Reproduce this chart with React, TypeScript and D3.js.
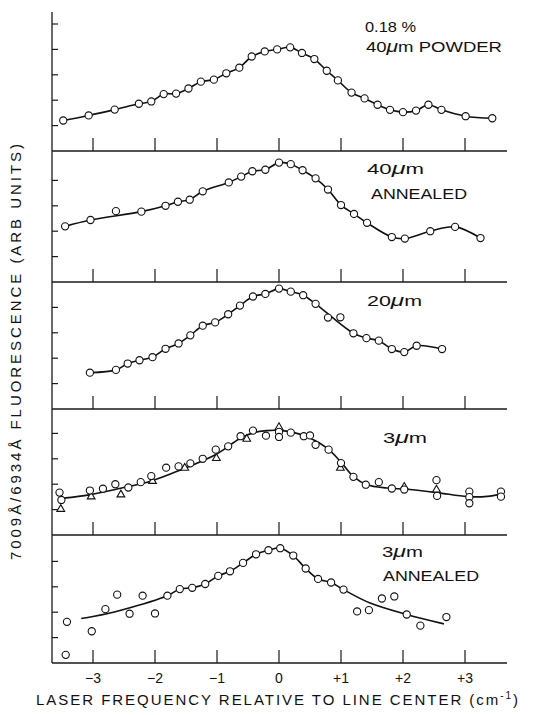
import React from 'react';
import * as d3 from 'd3';

type P = [number, number];

// x-axis ticks
const xTickValues = [-3, -2, -1, 0, 1, 2, 3];
const xTickLabels = ['\u22123', '\u22122', '\u22121', '0', '+1', '+2', '+3'];

// Panel 1: 0.18% 40um powder
const p1Circles: P[] = [[-3.48,1.20],[-3.07,1.40],[-2.65,1.63],[-2.26,1.86],[-2.06,1.95],[-1.86,2.24],[-1.66,2.26],[-1.46,2.46],[-1.26,2.73],[-1.05,2.81],[-0.85,3.06],[-0.64,3.28],[-0.44,3.72],[-0.23,3.92],[-0.03,4.00],[0.18,4.08],[0.37,3.86],[0.57,3.62],[0.77,3.16],[0.95,2.78],[1.17,2.30],[1.38,2.07],[1.59,1.82],[1.79,1.62],[2.00,1.53],[2.21,1.59],[2.41,1.82],[2.62,1.62],[3.01,1.37],[3.44,1.29]];
const p1Curve: P[] = p1Circles;

// Panel 2: 40um annealed
const p2Circles: P[] = [[-3.45,2.19],[-3.04,2.44],[-2.63,2.79],[-2.22,2.77],[-1.83,3.00],[-1.63,3.16],[-1.44,3.24],[-1.23,3.57],[-0.81,3.92],[-0.61,4.15],[-0.43,4.36],[-0.22,4.42],[0.0,4.70],[0.19,4.64],[0.38,4.40],[0.59,4.08],[0.79,3.64],[1.00,3.03],[1.21,2.68],[1.42,2.33],[1.82,1.77],[2.03,1.71],[2.44,2.00],[2.84,2.17],[3.25,1.73]];
const p2Curve: P[] = [[-3.45,2.19],[-3.04,2.44],[-2.22,2.77],[-1.83,3.00],[-1.63,3.16],[-1.44,3.24],[-1.23,3.57],[-0.81,3.92],[-0.61,4.15],[-0.43,4.36],[-0.22,4.42],[0.0,4.70],[0.19,4.64],[0.38,4.40],[0.59,4.08],[0.79,3.64],[1.00,3.03],[1.21,2.68],[1.42,2.33],[1.82,1.77],[2.03,1.71],[2.44,2.00],[2.84,2.17],[3.25,1.73]];

// Panel 3: 20um
const p3Circles: P[] = [[-3.05,1.43],[-2.63,1.54],[-2.44,1.79],[-2.25,1.92],[-2.04,2.04],[-1.83,2.37],[-1.62,2.58],[-1.43,2.90],[-1.23,3.28],[-1.03,3.41],[-0.82,3.73],[-0.63,4.07],[-0.42,4.43],[-0.22,4.53],[0.0,4.74],[0.19,4.62],[0.39,4.48],[0.59,4.14],[0.79,3.60],[0.99,3.61],[1.20,2.98],[1.41,2.79],[1.61,2.69],[1.82,2.36],[2.02,2.24],[2.22,2.49],[2.63,2.36]];
const p3Curve: P[] = [[-3.05,1.43],[-2.63,1.54],[-2.44,1.79],[-2.25,1.92],[-2.04,2.04],[-1.83,2.37],[-1.62,2.58],[-1.43,2.90],[-1.23,3.28],[-1.03,3.41],[-0.82,3.73],[-0.63,4.07],[-0.42,4.43],[-0.22,4.53],[0.0,4.74],[0.19,4.62],[0.39,4.48],[0.59,4.14],[1.20,2.98],[1.41,2.79],[1.61,2.69],[1.82,2.36],[2.02,2.24],[2.22,2.49],[2.63,2.36]];

// Panel 4: 3um (circles and triangles)
const p4Circles: P[] = [[-3.54,1.67],[-3.51,1.38],[-3.05,1.75],[-2.84,1.82],[-2.64,2.00],[-2.43,1.87],[-2.23,2.08],[-2.06,2.32],[-1.82,2.65],[-1.62,2.70],[-1.43,2.82],[-1.23,3.00],[-1.02,3.36],[-0.82,3.49],[-0.62,3.89],[-0.42,4.11],[-0.21,3.91],[0.0,4.06],[0.0,3.86],[0.19,4.03],[0.40,3.89],[0.50,3.92],[0.59,3.55],[0.80,3.36],[1.00,2.83],[1.20,2.29],[1.40,1.98],[1.61,2.08],[1.82,1.83],[2.02,1.79],[2.54,2.16],[2.55,1.54],[3.07,1.71],[3.07,1.49],[3.07,1.25],[3.58,1.71],[3.58,1.51]];
const p4Triangles: P[] = [[-3.52,1.02],[-3.03,1.51],[-2.55,1.59],[-2.04,2.12],[-1.52,2.64],[-1.01,3.02],[-0.52,3.78],[0.0,4.24],[0.99,2.64],[2.02,1.89],[2.54,1.78]];
const p4Curve: P[] = [[-3.48,1.45],[-3.06,1.58],[-2.63,1.80],[-2.03,2.15],[-1.60,2.55],[-1.01,3.18],[-0.63,3.80],[-0.42,4.02],[-0.20,4.11],[0,4.12],[0.23,4.04],[0.50,3.82],[0.77,3.43],[0.99,2.90],[1.20,2.30],[1.42,1.98],[1.74,1.85],[2.07,1.80],[2.55,1.67],[3.04,1.51],[3.36,1.52],[3.58,1.62]];

// Panel 5: 3um annealed
const p5Circles: P[] = [[-3.44,0.32],[-3.42,1.62],[-3.02,1.25],[-2.80,2.12],[-2.61,2.69],[-2.41,1.94],[-2.20,2.65],[-2.00,1.95],[-1.80,2.65],[-1.60,2.91],[-1.40,2.96],[-1.19,3.11],[-0.98,3.43],[-0.79,3.61],[-0.58,3.94],[-0.37,4.28],[-0.17,4.44],[0.02,4.52],[0.23,4.23],[0.43,3.72],[0.63,3.31],[0.84,3.17],[1.04,2.89],[1.26,2.03],[1.45,2.08],[1.66,2.54],[1.86,2.62],[2.06,1.91],[2.28,1.47],[2.70,1.81]];
const p5Curve: P[] = [[-3.19,1.75],[-3.00,1.83],[-2.52,2.10],[-1.80,2.65],[-1.60,2.91],[-1.40,2.96],[-1.19,3.11],[-0.98,3.43],[-0.79,3.61],[-0.58,3.94],[-0.37,4.28],[-0.17,4.44],[0.02,4.52],[0.23,4.23],[0.43,3.72],[0.63,3.31],[0.84,3.17],[1.04,2.89],[1.47,2.36],[2.06,1.91],[2.66,1.54]];

const yTitle = '7009\u00C5/6934\u00C5 FLUORESCENCE (ARB UNITS)';
const xTitle = 'LASER FREQUENCY RELATIVE TO LINE CENTER (cm';

type Label = { parts: { t: string; mu?: boolean }[]; x: number; y: number; w: number };

export default function App() {
  const W = 533, H = 715;
  const x = d3.scaleLinear().domain([-3, 3]).range([93, 465]);
  const axisLeft = 52, axisRight = 507;
  const unit = 25.4;
  const font = "'Liberation Sans', Arial, Helvetica, sans-serif";

  const panels: { top: number; bottom: number; nTicks: number; circles: P[]; triangles: P[]; curve: P[]; labels: Label[] }[] = [
    { top: 12, bottom: 151, nTicks: 5, circles: p1Circles, triangles: [], curve: p1Curve,
      labels: [
        { parts: [{ t: '0.18 %' }], x: 365, y: 32, w: 51 },
        { parts: [{ t: '40' }, { t: '\u03BC', mu: true }, { t: 'm POWDER' }], x: 366, y: 51.5, w: 136 },
      ] },
    { top: 151, bottom: 282, nTicks: 4, circles: p2Circles, triangles: [], curve: p2Curve,
      labels: [
        { parts: [{ t: '40' }, { t: '\u03BC', mu: true }, { t: 'm' }], x: 367, y: 174, w: 57 },
        { parts: [{ t: 'ANNEALED' }], x: 371, y: 199, w: 96 },
      ] },
    { top: 282, bottom: 409, nTicks: 4, circles: p3Circles, triangles: [], curve: p3Curve,
      labels: [
        { parts: [{ t: '20' }, { t: '\u03BC', mu: true }, { t: 'm' }], x: 367, y: 305.5, w: 55 },
      ] },
    { top: 409, bottom: 535, nTicks: 4, circles: p4Circles, triangles: p4Triangles, curve: p4Curve,
      labels: [
        { parts: [{ t: '3' }, { t: '\u03BC', mu: true }, { t: 'm' }], x: 383, y: 443, w: 44 },
      ] },
    { top: 535, bottom: 663, nTicks: 4, circles: p5Circles, triangles: [], curve: p5Curve,
      labels: [
        { parts: [{ t: '3' }, { t: '\u03BC', mu: true }, { t: 'm' }], x: 382, y: 557, w: 41 },
        { parts: [{ t: 'ANNEALED' }], x: 383, y: 581, w: 96 },
      ] },
  ];

  const tri = d3.symbol().type(d3.symbolTriangle).size(26)();

  return (
    <svg width={W} height={H} style={{ position: 'absolute', left: 0, top: 0, background: '#fff' }}
      xmlns="http://www.w3.org/2000/svg">
      <rect x={0} y={0} width={W} height={H} fill="#fff" />
      {/* left axis */}
      <line x1={axisLeft} x2={axisLeft} y1={12} y2={663} stroke="#1a1a1a" strokeWidth={1.3} />
      {panels.map((p, i) => {
        const y = d3.scaleLinear().domain([0, 1]).range([p.bottom, p.bottom - unit]);
        const line = d3.line<P>().x(d => x(d[0])).y(d => y(d[1])).curve(d3.curveCatmullRom.alpha(0.5));
        const yt = d3.range(1, p.nTicks + 1);
        return (
          <g key={i}>
            <line x1={axisLeft} x2={axisRight} y1={p.bottom} y2={p.bottom} stroke="#1a1a1a" strokeWidth={1.3} />
            {xTickValues.map(v => (
              <line key={v} x1={x(v)} x2={x(v)} y1={p.bottom} y2={p.bottom - 13} stroke="#1a1a1a" strokeWidth={1.2} />
            ))}
            {yt.map(v => (
              <line key={v} x1={axisLeft} x2={axisLeft + 6} y1={y(v)} y2={y(v)} stroke="#1a1a1a" strokeWidth={1.2} />
            ))}
            <path d={line(p.curve) || ''} fill="none" stroke="#111" strokeWidth={1.6} />
            {p.triangles.map((d, j) => (
              <path key={'t' + j} d={tri || ''} transform={`translate(${x(d[0])},${y(d[1])})`}
                fill="#fff" stroke="#111" strokeWidth={1.1} />
            ))}
            {p.circles.map((d, j) => (
              <circle key={'c' + j} cx={x(d[0])} cy={y(d[1])} r={3.6} fill="#fff" stroke="#111" strokeWidth={1.1} />
            ))}
            {p.labels.map((l, j) => (
              <text key={'l' + j} x={l.x} y={l.y} fontFamily={font} fontSize={15} fill="#111"
                textLength={l.w} lengthAdjust="spacingAndGlyphs">
                {l.parts.map((pt, k) => (
                  <tspan key={k} fontStyle={pt.mu ? 'italic' : 'normal'} fontSize={pt.mu ? 17 : undefined}>{pt.t}</tspan>
                ))}
              </text>
            ))}
          </g>
        );
      })}
      {/* x tick labels */}
      {xTickValues.map((v, i) => (
        <text key={v} x={x(v)} y={683} textAnchor="middle" fontFamily={font} fontSize={14} fill="#111">
          {xTickLabels[i]}
        </text>
      ))}
      {/* x title */}
      <text x={36} y={705} fontFamily={font} fontSize={15} fill="#111" textLength={482} lengthAdjust="spacing">
        {xTitle}
        <tspan dy={-6} fontSize={10}>-1</tspan>
        <tspan dy={6}>)</tspan>
      </text>
      {/* y title */}
      <text transform={`translate(21,352) rotate(-90)`} textAnchor="middle" fontFamily={font} fontSize={15}
        fill="#111" textLength={416} lengthAdjust="spacing">
        {yTitle}
      </text>
    </svg>
  );
}
